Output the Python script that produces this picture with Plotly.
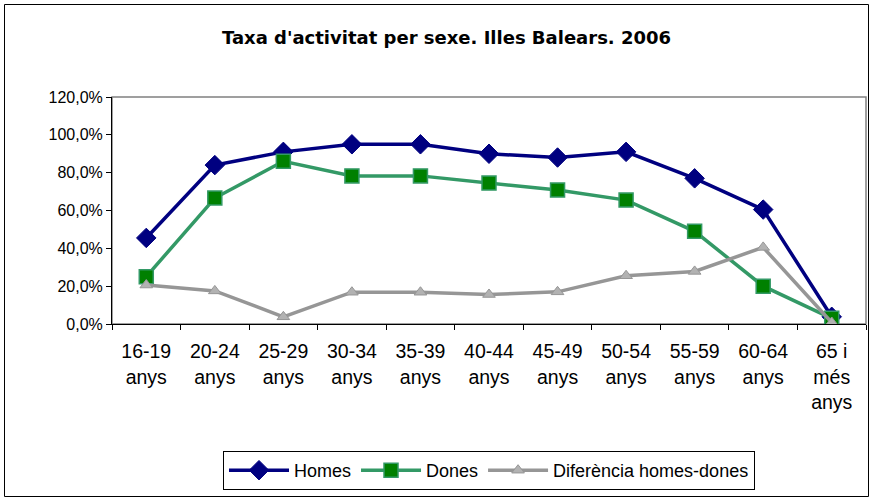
import plotly.graph_objects as go

categories = ["16-19<br>anys", "20-24<br>anys", "25-29<br>anys", "30-34<br>anys", "35-39<br>anys",
              "40-44<br>anys", "45-49<br>anys", "50-54<br>anys", "55-59<br>anys", "60-64<br>anys",
              "65 i<br>més<br>anys"]
homes = [45.5, 84.0, 91.0, 95.0, 95.0, 90.0, 88.0, 91.0, 77.0, 60.5, 3.8]
dones = [25.0, 66.6, 86.0, 78.3, 78.3, 74.5, 70.8, 65.5, 49.0, 20.0, 3.0]
diferencia = [20.6, 17.5, 3.8, 16.8, 16.8, 15.6, 17.0, 25.5, 27.8, 40.5, 0.8]
y_ticks = [0, 20, 40, 60, 80, 100, 120]
y_ticktext = [f"{v:.1f}%".replace(".", ",") for v in y_ticks]

W, H = 872, 498
L, R, T, B = 112, 6, 97, 174
pw, ph = W - L - R, H - T - B

def px(x):
    return (x - L) / pw

def py(y):
    return (H - B - y) / ph

fig = go.Figure()
fig.add_trace(go.Scatter(x=categories, y=homes, name="Homes", mode="lines+markers",
                         line=dict(color="#000080", width=3.5),
                         marker=dict(symbol="diamond", size=15, color="#000080",
                                     line=dict(color="#000080", width=1))))
fig.add_trace(go.Scatter(x=categories, y=dones, name="Dones", mode="lines+markers",
                         line=dict(color="#339966", width=3.5),
                         marker=dict(symbol="square", size=14, color="#008000",
                                     line=dict(color="#339966", width=1.5))))
fig.add_trace(go.Scatter(x=categories, y=diferencia, name="Diferència homes-dones", mode="lines+markers",
                         line=dict(color="#969696", width=3.5),
                         marker=dict(symbol="triangle-up", size=11, color="#B2B2B2",
                                     line=dict(color="#969696", width=1))))

fig.update_layout(
    width=W, height=H,
    margin=dict(l=L, r=R, t=T, b=B, autoexpand=False),
    paper_bgcolor="white", plot_bgcolor="white",
    font=dict(family="Liberation Sans, Arial, sans-serif", size=15, color="black"),
    title=dict(text="<b>Taxa d'activitat per sexe. Illes Balears. 2006</b>",
               x=px(446.5), xref="paper", xanchor="center", y=1 - 38 / H, yanchor="middle",
               font=dict(family="DejaVu Sans, Verdana, sans-serif", size=18, color="black")),
    showlegend=True,
    legend=dict(orientation="h", x=0.5, xanchor="center", y=py(451), yanchor="top",
                bordercolor="black", borderwidth=1, bgcolor="white",
                font=dict(size=18), itemwidth=60, tracegroupgap=0),
    xaxis=dict(type="category", showgrid=False, showline=True, linecolor="black", linewidth=1,
               ticks="outside", tickson="boundaries", ticklen=5, tickcolor="black",
               tickfont=dict(size=19.5), ticklabelstandoff=10,
               range=[-0.5, len(categories) - 0.5], fixedrange=True),
    yaxis=dict(range=[0, 120], tickvals=y_ticks, ticktext=y_ticktext,
               tickfont=dict(size=16),
               showgrid=False, showline=True, linecolor="black", linewidth=1,
               ticks="outside", ticklen=5, tickcolor="black", zeroline=False),
    shapes=[
        dict(type="rect", xref="paper", yref="paper", x0=0, x1=1, y0=0, y1=1,
             line=dict(color="#808080", width=1.5), layer="below"),
        dict(type="rect", xref="paper", yref="paper", x0=px(4.5), x1=px(868.5), y0=py(496.5), y1=py(4.5),
             line=dict(color="black", width=1), layer="below"),
    ],
)

fig.write_html("out.html", config={"displayModeBar": False},
               post_script="document.body.style.margin='0';document.body.style.overflow='hidden';")
